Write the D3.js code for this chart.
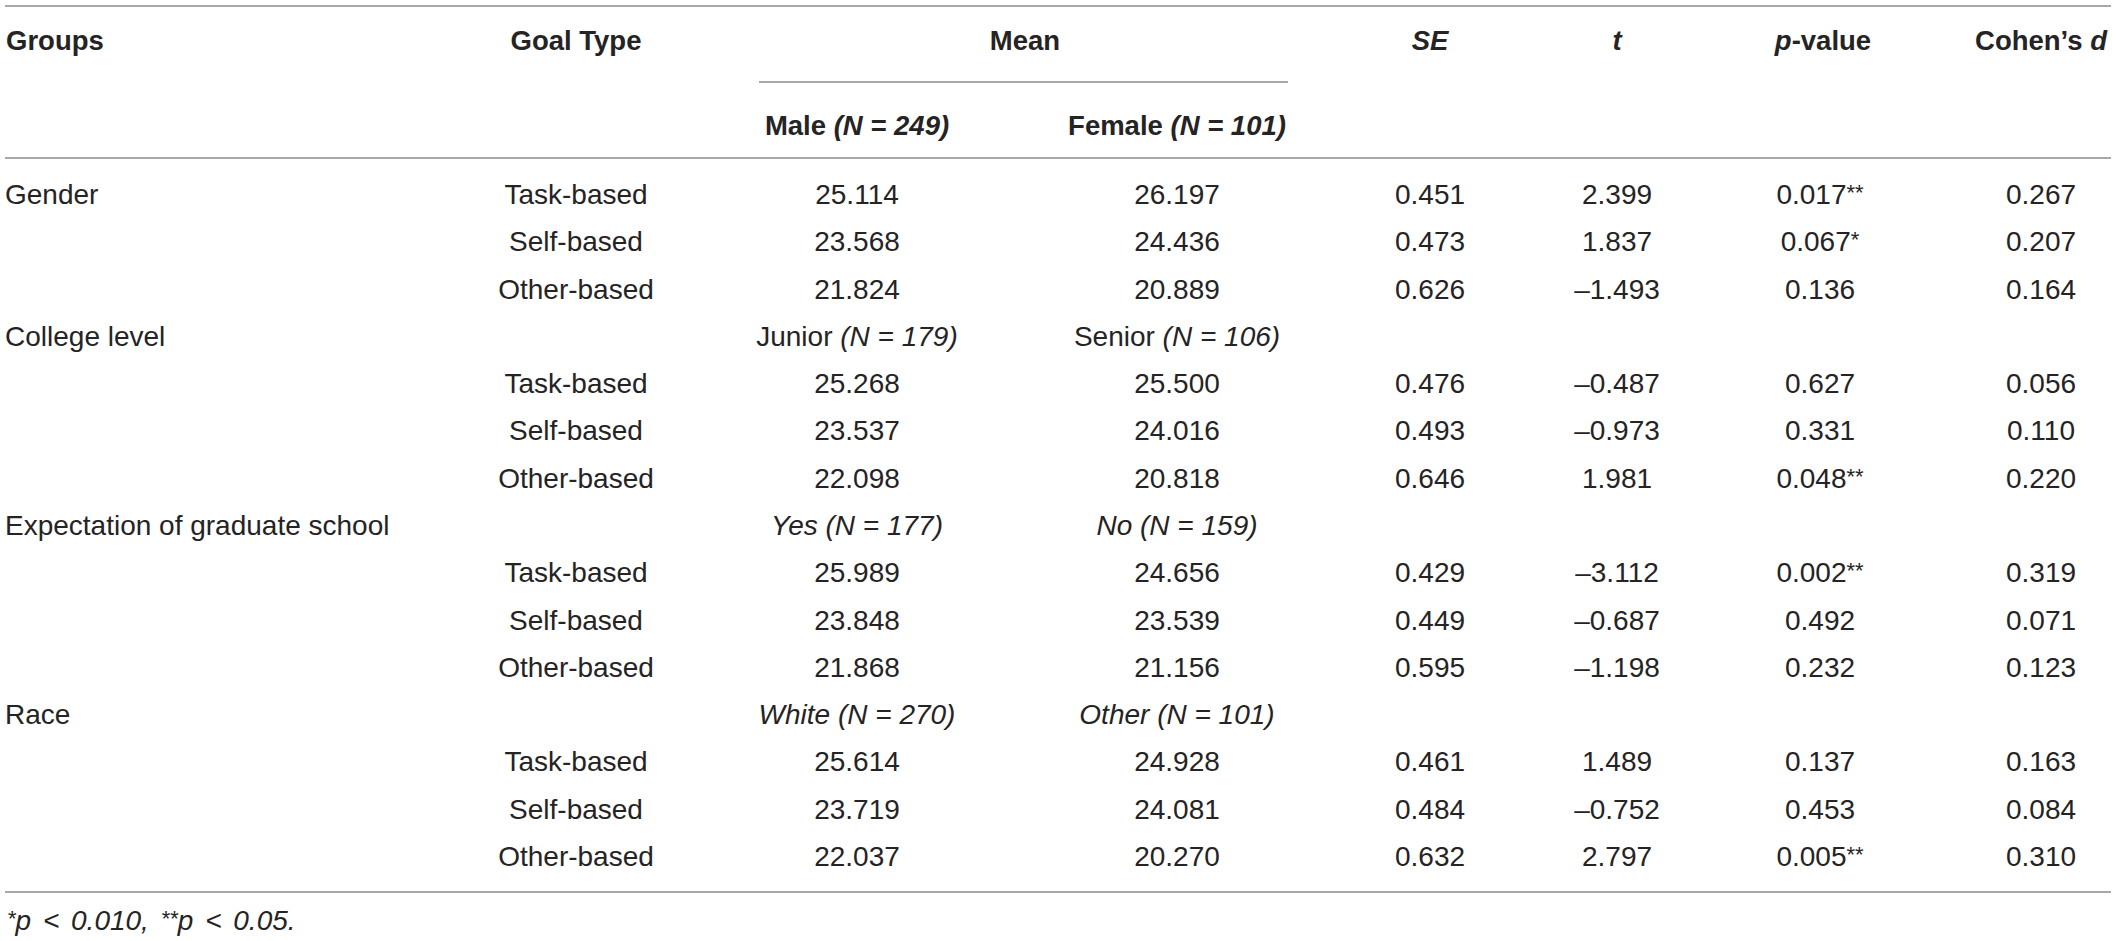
<!DOCTYPE html>
<html>
<head>
<meta charset="utf-8">
<script src="https://cdn.jsdelivr.net/npm/d3@7"></script>
<style>
  body { margin: 0; background: #fff; }
  svg text { font-family: "Liberation Sans", Arial, sans-serif; fill: #262324; }
  .head { font-weight: bold; font-size: 27.5px; }
  .rule { stroke: #8a8a8a; stroke-width: 1.3; }
</style>
</head>
<body>
<div id="table-wrapper"></div>
<script>
// Table content
const groups = ["Gender", "College level", "Expectation of graduate school", "Race"];
const goalTypes = ["Task-based", "Self-based", "Other-based"];
const subgroupNames = [["Male", "Female"], ["Junior", "Senior"], ["Yes", "No"], ["White", "Other"]];
const subgroupN = [[249, 101], [179, 106], [177, 159], [270, 101]];
const italicNames = [false, false, true, true];
const meanA = [25.114, 23.568, 21.824, 25.268, 23.537, 22.098, 25.989, 23.848, 21.868, 25.614, 23.719, 22.037];
const meanB = [26.197, 24.436, 20.889, 25.5, 24.016, 20.818, 24.656, 23.539, 21.156, 24.928, 24.081, 20.27];
const seVals = [0.451, 0.473, 0.626, 0.476, 0.493, 0.646, 0.429, 0.449, 0.595, 0.461, 0.484, 0.632];
const tVals = [2.399, 1.837, -1.493, -0.487, -0.973, 1.981, -3.112, -0.687, -1.198, 1.489, -0.752, 2.797];
const pVals = [0.017, 0.067, 0.136, 0.627, 0.331, 0.048, 0.002, 0.492, 0.232, 0.137, 0.453, 0.005];
const pStars = ["**", "*", "", "", "", "**", "**", "", "", "", "", "**"];
const dVals = [0.267, 0.207, 0.164, 0.056, 0.11, 0.22, 0.319, 0.071, 0.123, 0.163, 0.084, 0.31];

// Dimensions
const dimensions = {
  width: 2117,
  height: 941,
  left: 5,
  right: 2111,
  fontSize: 28,
  starSize: 22,
};

const wrapper = d3
  .select("#table-wrapper")
  .append("svg")
  .attr("width", dimensions.width)
  .attr("height", dimensions.height)
  .style("font-size", `${dimensions.fontSize}px`);

// Column centres
const columns = ["goal", "a", "b", "se", "t", "p", "d"];
const xScale = d3
  .scaleOrdinal()
  .domain(columns)
  .range([576, 857, 1177, 1430, 1617, 1820, 2041]);

// Body rows: 15 rows, one label row per group except Gender
const yScale = d3.scaleLinear().domain([0, 14]).range([204, 866]);

const fmt = d3.format(".3f");
const fmtSigned = (v) => fmt(v).replace("−", "–").replace("-", "–");

// Build the row list
const rows = [];
let k = 0;
groups.forEach((g, gi) => {
  if (gi > 0) rows.push({ type: "label", group: g, gi });
  goalTypes.forEach((goal, j) => {
    rows.push({
      type: "data",
      group: gi === 0 && j === 0 ? g : null,
      goal,
      i: k,
    });
    k++;
  });
});
rows.forEach((r, idx) => (r.y = yScale(idx)));

// Rules
const rules = [
  { y: 6, x1: dimensions.left, x2: dimensions.right },
  { y: 82, x1: 759, x2: 1288 },
  { y: 158, x1: dimensions.left, x2: dimensions.right },
  { y: 892, x1: dimensions.left, x2: dimensions.right },
];
wrapper
  .selectAll(".rule")
  .data(rules)
  .join("line")
  .attr("class", "rule")
  .attr("x1", (d) => d.x1)
  .attr("x2", (d) => d.x2)
  .attr("y1", (d) => d.y)
  .attr("y2", (d) => d.y);

// Header row 1
const header = wrapper.append("g").attr("class", "head");
const headY = 50;
header.append("text").attr("x", dimensions.left + 1).attr("y", headY).text("Groups");
header.append("text").attr("x", xScale("goal")).attr("y", headY).attr("text-anchor", "middle").text("Goal Type");
header.append("text").attr("x", 1025).attr("y", headY).attr("text-anchor", "middle").text("Mean");
header.append("text").attr("x", xScale("se")).attr("y", headY).attr("text-anchor", "middle").style("font-style", "italic").text("SE");
header.append("text").attr("x", xScale("t")).attr("y", headY).attr("text-anchor", "middle").style("font-style", "italic").text("t");
const pHead = header.append("text").attr("x", xScale("p") + 3).attr("y", headY).attr("text-anchor", "middle");
pHead.append("tspan").style("font-style", "italic").text("p");
pHead.append("tspan").text("-value");
const dHead = header.append("text").attr("x", xScale("d")).attr("y", headY).attr("text-anchor", "middle");
dHead.append("tspan").text("Cohen’s ");
dHead.append("tspan").style("font-style", "italic").text("d");

// Subgroup label, e.g. "Junior (N = 179)"
function subgroupLabel(sel, name, n, italicName) {
  sel.append("tspan").style("font-style", italicName ? "italic" : "normal").text(name + " ");
  sel.append("tspan").style("font-style", "italic").text(`(N = ${n})`);
}

// Header row 2 holds the Gender subgroups
const head2Y = 135;
["a", "b"].forEach((c, ci) => {
  const t = header
    .append("text")
    .attr("x", xScale(c))
    .attr("y", head2Y)
    .attr("text-anchor", "middle");
  subgroupLabel(t, subgroupNames[0][ci], subgroupN[0][ci], false);
});

// Body
const body = wrapper.append("g").attr("class", "body");
const rowG = body
  .selectAll(".row")
  .data(rows)
  .join("g")
  .attr("class", "row")
  .attr("transform", (d) => `translate(0, ${d.y})`);

rowG
  .filter((d) => d.group)
  .append("text")
  .attr("x", dimensions.left)
  .text((d) => d.group);

rowG
  .filter((d) => d.type === "label")
  .each(function (d) {
    const g = d3.select(this);
    ["a", "b"].forEach((c, ci) => {
      const t = g.append("text").attr("x", xScale(c)).attr("text-anchor", "middle");
      subgroupLabel(t, subgroupNames[d.gi][ci], subgroupN[d.gi][ci], italicNames[d.gi]);
    });
  });

const dataRows = rowG.filter((d) => d.type === "data");
const cells = [
  { col: "goal", value: (d) => d.goal },
  { col: "a", value: (d) => fmt(meanA[d.i]) },
  { col: "b", value: (d) => fmt(meanB[d.i]) },
  { col: "se", value: (d) => fmt(seVals[d.i]) },
  { col: "t", value: (d) => fmtSigned(tVals[d.i]) },
  { col: "d", value: (d) => fmt(dVals[d.i]) },
];
cells.forEach((c) => {
  dataRows
    .append("text")
    .attr("x", xScale(c.col))
    .attr("text-anchor", "middle")
    .text(c.value);
});

// p-values with raised stars
const pText = dataRows
  .append("text")
  .attr("x", xScale("p"))
  .attr("text-anchor", "middle");
pText.append("tspan").text((d) => fmt(pVals[d.i]));
pText
  .append("tspan")
  .attr("dy", -4)
  .style("font-size", `${dimensions.starSize}px`)
  .text((d) => pStars[d.i]);

// Footnote
const note = wrapper
  .append("text")
  .attr("x", dimensions.left + 2)
  .attr("y", 930)
  .style("font-style", "italic")
  .style("word-spacing", "4px");
note.append("tspan").attr("dy", -4).style("font-size", `${dimensions.starSize}px`).text("*");
note.append("tspan").attr("dy", 4).text("p < 0.010, ");
note.append("tspan").attr("dy", -4).style("font-size", `${dimensions.starSize}px`).text("**");
note.append("tspan").attr("dy", 4).text("p < 0.05.");
</script>
</body>
</html>
